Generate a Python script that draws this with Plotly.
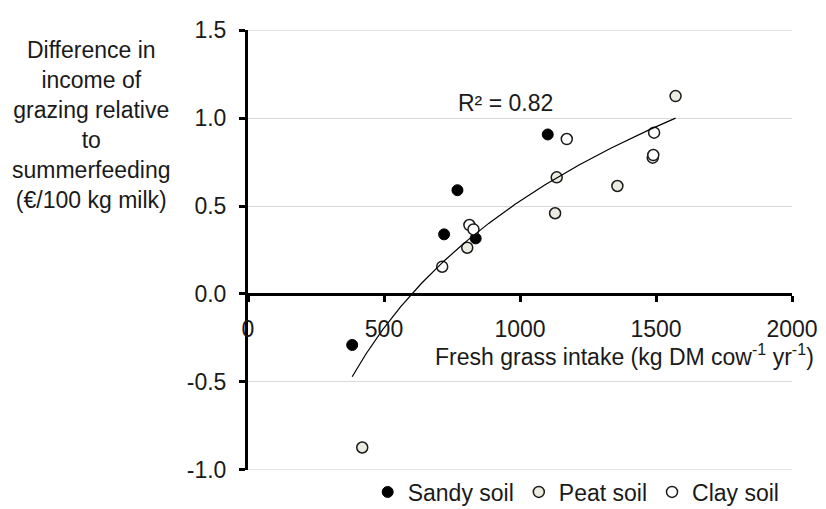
import numpy as np
import plotly.graph_objects as go

# ---- data ----
sandy_x = [383, 721, 770, 837, 1102]
sandy_y = [-0.29, 0.339, 0.59, 0.316, 0.907]

peat_x = [420, 806, 1129, 1135, 1358, 1488, 1572]
peat_y = [-0.873, 0.263, 0.459, 0.663, 0.614, 0.775, 1.125]

clay_x = [714, 814, 829, 1172, 1490, 1493]
clay_y = [0.155, 0.392, 0.367, 0.881, 0.79, 0.917]

x_tick_vals = [0, 500, 1000, 1500, 2000]
x_tick_text = ["0", "500", "1000", "1500", "2000"]
y_tick_vals = [-1.0, -0.5, 0.0, 0.5, 1.0, 1.5]
y_tick_text = ["-1.0", "-0.5", "0.0", "0.5", "1.0", "1.5"]

r2_label = "R² = 0.82"

FONT = "Arial, 'Liberation Sans', sans-serif"
FS = 23
TXT = "#1a1a1a"
GRID = "#d9d9d9"

# logarithmic trend line fitted on all points
all_x = np.array(sandy_x + peat_x + clay_x, dtype=float)
all_y = np.array(sandy_y + peat_y + clay_y, dtype=float)
a, b = np.polyfit(np.log(all_x), all_y, 1)
tx = np.linspace(all_x.min(), all_x.max(), 200)
ty = a * np.log(tx) + b

fig = go.Figure()
fig.add_trace(go.Scatter(x=sandy_x, y=sandy_y, mode="markers", name="Sandy soil",
                         marker=dict(size=11, color="black", line=dict(color="black", width=1))))
fig.add_trace(go.Scatter(x=peat_x, y=peat_y, mode="markers", name="Peat soil",
                         marker=dict(size=11, color="#ecebe0", line=dict(color="#1a1a1a", width=1.5))))
fig.add_trace(go.Scatter(x=clay_x, y=clay_y, mode="markers", name="Clay soil",
                         marker=dict(size=11, color="white", line=dict(color="#1a1a1a", width=1.5))))
fig.add_trace(go.Scatter(x=tx, y=ty, mode="lines", showlegend=False,
                         line=dict(color="black", width=1.2), hoverinfo="skip"))

fig.update_layout(
    width=826, height=509,
    margin=dict(l=248, r=34, t=30, b=39, autoexpand=False),
    paper_bgcolor="white", plot_bgcolor="white",
    font=dict(family=FONT, size=FS, color=TXT),
    showlegend=True,
    legend=dict(orientation="h", x=0.22, xanchor="left", y=-0.05, yanchor="middle",
                font=dict(family=FONT, size=FS, color=TXT), itemwidth=30,
                bgcolor="rgba(0,0,0,0)"),
    xaxis=dict(range=[0, 2000], tickvals=x_tick_vals, ticktext=x_tick_text,
               showgrid=False, zeroline=False, showline=True, linewidth=3, linecolor="black",
               ticks="outside", ticklen=6, tickwidth=3, tickcolor="black",
               anchor="free", position=0.4, ticklabelstandoff=7,
               tickfont=dict(family=FONT, size=FS, color=TXT)),
    yaxis=dict(range=[-1.001, 1.501], tickvals=y_tick_vals, ticktext=y_tick_text,
               showgrid=True, gridcolor=GRID, gridwidth=1, zeroline=False,
               showline=True, linewidth=3, linecolor="black",
               ticks="outside", ticklen=6, tickwidth=3, tickcolor="black",
               ticklabelstandoff=8,
               tickfont=dict(family=FONT, size=FS, color=TXT)),
)

# make sure the edge gridlines (top and bottom tick values) are drawn
for yv in (y_tick_vals[0], y_tick_vals[-1]):
    fig.add_shape(type="line", xref="paper", yref="y", x0=0, x1=1, y0=yv, y1=yv,
                  line=dict(color=GRID, width=1), layer="below")

fig.add_annotation(text="Difference in<br>income of<br>grazing relative<br>to<br>summerfeeding<br>(€/100 kg milk)",
                   xref="paper", yref="paper", x=-0.287, y=0.785, xanchor="center", yanchor="middle",
                   showarrow=False, align="center", font=dict(family=FONT, size=FS, color=TXT))
fig.add_annotation(text="Fresh grass intake (kg DM cow<sup>-1</sup> yr<sup>-1</sup>)",
                   xref="paper", yref="paper", x=1.045, y=0.261, xanchor="right", yanchor="middle",
                   showarrow=False, align="right", font=dict(family=FONT, size=FS, color=TXT))
fig.add_annotation(text=r2_label, xref="x", yref="y", x=945, y=1.085,
                   xanchor="center", yanchor="middle", showarrow=False,
                   font=dict(family=FONT, size=FS, color=TXT))

fig.write_html("out.html")
